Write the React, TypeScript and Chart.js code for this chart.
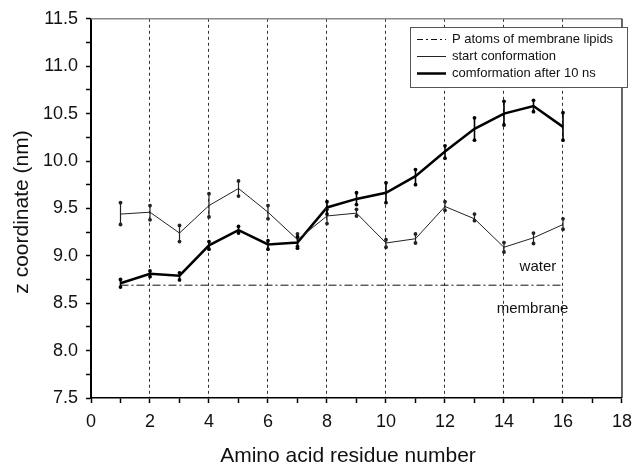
import React, { useEffect, useRef } from 'react';
import { Chart, registerables } from 'chart.js';

Chart.register(...registerables);

// ---- data ----
const residues = [1, 2, 3, 4, 5, 6, 7, 8, 9, 10, 11, 12, 13, 14, 15, 16];

const startZ = [9.44, 9.46, 9.24, 9.53, 9.71, 9.46, 9.17, 9.42, 9.45, 9.135, 9.18, 9.52, 9.39, 9.09, 9.19, 9.33];
const startLow = [9.33, 9.38, 9.15, 9.41, 9.63, 9.39, 9.1, 9.34, 9.42, 9.09, 9.135, 9.48, 9.37, 9.04, 9.13, 9.28];
const startHigh = [9.56, 9.53, 9.32, 9.655, 9.79, 9.53, 9.23, 9.49, 9.49, 9.17, 9.23, 9.57, 9.44, 9.14, 9.24, 9.39];

const afterZ = [8.71, 8.81, 8.79, 9.11, 9.27, 9.12, 9.14, 9.51, 9.6, 9.665, 9.84, 10.1, 10.34, 10.5, 10.58, 10.36];
const afterLow = [8.67, 8.78, 8.745, 9.07, 9.24, 9.07, 9.08, 9.44, 9.54, 9.56, 9.75, 10.03, 10.22, 10.38, 10.52, 10.22];
const afterHigh = [8.75, 8.84, 8.82, 9.15, 9.31, 9.16, 9.2, 9.57, 9.665, 9.77, 9.91, 10.16, 10.455, 10.63, 10.64, 10.51];

const membraneX = [1, 16];
const membraneZ = [8.69, 8.69];

const seriesLabels = ['P atoms of membrane lipids', 'start conformation', 'comformation after 10 ns'];
const xTitle = 'Amino acid residue number';
const yTitle = 'z coordinate (nm)';
const regionLabels = ['water', 'membrane'];
const regionX = [15.15, 14.97];
const regionY = [8.88, 8.44];

const X_MIN = 0;
const X_MAX = 18;
const Y_MIN = 7.5;
const Y_MAX = 11.5;

const FONT = '"Liberation Sans", Arial, Helvetica, sans-serif';

const errorBarsPlugin = {
  id: 'errorBars',
  afterDatasetsDraw(chart: any) {
    const ctx = chart.ctx;
    const xs = chart.scales.x;
    const ys = chart.scales.y;
    const sets = [
      { low: startLow, high: startHigh, w: 1.2, color: '#222' },
      { low: afterLow, high: afterHigh, w: 1.6, color: '#000' },
    ];
    ctx.save();
    sets.forEach((s) => {
      residues.forEach((r, i) => {
        const px = xs.getPixelForValue(r);
        const y1 = ys.getPixelForValue(s.low[i]);
        const y2 = ys.getPixelForValue(s.high[i]);
        ctx.strokeStyle = s.color;
        ctx.lineWidth = s.w;
        ctx.beginPath();
        ctx.moveTo(px, y1);
        ctx.lineTo(px, y2);
        ctx.stroke();
        ctx.fillStyle = s.color;
        [y1, y2].forEach((yy) => {
          ctx.beginPath();
          ctx.arc(px, yy, 1.9, 0, Math.PI * 2);
          ctx.fill();
        });
      });
    });
    ctx.restore();
  },
};

const decorPlugin = {
  id: 'decor',
  afterDraw(chart: any) {
    const ctx = chart.ctx;
    const a = chart.chartArea;
    const xs = chart.scales.x;
    const ys = chart.scales.y;
    ctx.save();
    // top border (gray) and right border
    ctx.strokeStyle = '#8a8a8a';
    ctx.lineWidth = 1.5;
    ctx.beginPath();
    ctx.moveTo(a.left, a.top);
    ctx.lineTo(a.right, a.top);
    ctx.stroke();
    ctx.strokeStyle = '#000';
    ctx.lineWidth = 1.2;
    ctx.beginPath();
    ctx.moveTo(a.right, a.top);
    ctx.lineTo(a.right, a.bottom);
    ctx.stroke();

    // region labels
    ctx.fillStyle = '#111';
    ctx.font = `15px ${FONT}`;
    ctx.textAlign = 'center';
    ctx.textBaseline = 'middle';
    regionLabels.forEach((t, i) => {
      ctx.fillText(t, xs.getPixelForValue(regionX[i]), ys.getPixelForValue(regionY[i]));
    });

    // axis titles
    ctx.fillStyle = '#111';
    ctx.font = `21px ${FONT}`;
    ctx.textAlign = 'center';
    ctx.textBaseline = 'alphabetic';
    ctx.fillText(xTitle, 348, 462);
    ctx.save();
    ctx.translate(22, 212);
    ctx.rotate(-Math.PI / 2);
    ctx.textBaseline = 'middle';
    ctx.fillText(yTitle, 0, 0);
    ctx.restore();

    // legend
    const bx = 410, by = 27, bw = 217, bh = 60;
    ctx.fillStyle = '#fff';
    ctx.fillRect(bx, by, bw, bh);
    ctx.strokeStyle = '#555';
    ctx.lineWidth = 1;
    ctx.strokeRect(bx + 0.5, by + 0.5, bw, bh);
    const rows = [39.5, 56.5, 73.5];
    const dsets = chart.data.datasets;
    ctx.font = `13px ${FONT}`;
    ctx.textAlign = 'left';
    ctx.textBaseline = 'middle';
    rows.forEach((ry, i) => {
      const ds = dsets[i];
      ctx.strokeStyle = ds.borderColor;
      ctx.lineWidth = ds.borderWidth;
      ctx.setLineDash(ds.borderDash ? [6, 3, 2, 3] : []);
      ctx.beginPath();
      ctx.moveTo(417, ry);
      ctx.lineTo(446, ry);
      ctx.stroke();
      ctx.setLineDash([]);
      ctx.fillStyle = '#111';
      ctx.fillText(ds.label, 452, ry);
    });
    ctx.restore();
  },
};

export default function App() {
  const ref = useRef<HTMLCanvasElement | null>(null);

  useEffect(() => {
    if (!ref.current) return;
    Chart.defaults.font.family = FONT;
    const chart = new Chart(ref.current, {
      type: 'line',
      data: {
        datasets: [
          {
            label: seriesLabels[0],
            data: membraneX.map((x, i) => ({ x, y: membraneZ[i] })),
            borderColor: '#111',
            borderWidth: 1,
            borderDash: [8, 3, 2, 3],
            pointRadius: 0,
            fill: false,
          },
          {
            label: seriesLabels[1],
            data: residues.map((x, i) => ({ x, y: startZ[i] })),
            borderColor: '#222',
            borderWidth: 1,
            pointRadius: 0,
            tension: 0,
            fill: false,
          },
          {
            label: seriesLabels[2],
            data: residues.map((x, i) => ({ x, y: afterZ[i] })),
            borderColor: '#000',
            borderWidth: 2.5,
            pointRadius: 0,
            tension: 0,
            fill: false,
          },
        ],
      },
      options: {
        animation: false,
        responsive: false,
        maintainAspectRatio: false,
        layout: { padding: { top: 18, right: 12, left: 0, bottom: 0 } },
        plugins: {
          legend: { display: false },
          tooltip: { enabled: false },
          title: { display: false },
        },
        scales: {
          x: {
            type: 'linear',
            min: X_MIN,
            max: X_MAX,
            afterFit: (s: any) => {
              s.height = 66;
            },
            ticks: {
              stepSize: 1,
              autoSkip: false,
              maxRotation: 0,
              padding: 8,
              color: '#111',
              font: { size: 18 },
              callback: (v: any) => (Number(v) % 2 === 0 ? String(v) : ''),
            },
            grid: {
              drawOnChartArea: true,
              drawTicks: true,
              tickLength: 5,
              lineWidth: 1,
              tickWidth: 1.5,
              tickColor: '#000',
              color: (c: any) => {
                const v = c.tick ? c.tick.value : -1;
                return v % 2 === 0 && v > X_MIN && v < X_MAX ? '#333' : 'rgba(0,0,0,0)';
              },
            },
            border: { display: true, color: '#000', width: 1.5, dash: [3, 3] },
          },
          y: {
            type: 'linear',
            min: Y_MIN,
            max: Y_MAX,
            afterFit: (s: any) => {
              s.width = 91;
            },
            ticks: {
              stepSize: 0.25,
              autoSkip: false,
              padding: 8,
              color: '#111',
              font: { size: 18 },
              callback: (v: any) => {
                const n = Number(v);
                return Math.abs(n * 2 - Math.round(n * 2)) < 1e-6 ? n.toFixed(1) : '';
              },
            },
            grid: {
              drawOnChartArea: false,
              drawTicks: true,
              tickLength: 5,
              tickWidth: 1.5,
              tickColor: '#000',
            },
            border: { display: true, color: '#000', width: 2 },
          },
        },
      },
      plugins: [errorBarsPlugin, decorPlugin],
    } as any);
    return () => chart.destroy();
  }, []);

  return (
    <div style={{ position: 'fixed', left: 0, top: 0, width: 640, height: 464, background: '#fff' }}>
      <canvas ref={ref} width={640} height={464} style={{ display: 'block' }} />
    </div>
  );
}
